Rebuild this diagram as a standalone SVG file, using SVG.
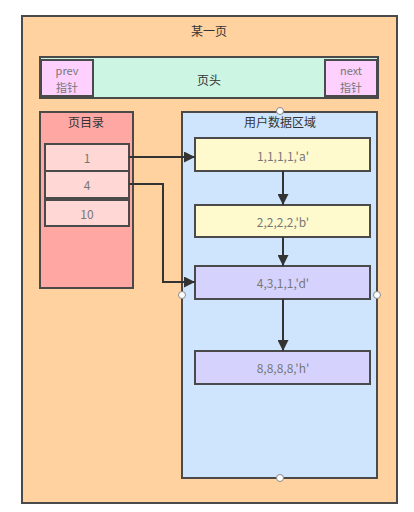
<svg xmlns="http://www.w3.org/2000/svg" width="414" height="512" viewBox="0 0 414 512">
<defs>
<marker id="ah" viewBox="0 0 10 10" refX="10" refY="5" markerWidth="11" markerHeight="11" markerUnits="userSpaceOnUse" orient="auto"><path d="M0,0 L10,5 L0,10 z" fill="#333"/></marker>
<style>
.box{stroke:#4a4a4a;stroke-width:2}
.t{font-family:"Noto Sans CJK SC","Liberation Sans",sans-serif;font-size:12px;text-anchor:middle;dominant-baseline:central}
.s{font-size:11px}
.title{fill:#333}
.rec{fill:#777}
.conn{fill:none;stroke:#333;stroke-width:2;marker-end:url(#ah)}
.h{fill:#fff;stroke:#888;stroke-width:1}
</style>
</defs>
<rect width="414" height="512" fill="#fff"/>
<g id="page">
<rect class="box" x="22" y="16" width="375" height="487" fill="#FFD29F" stroke="#6e5f52"/>
<text class="t title" x="209" y="30">某一页</text>
</g>
<g id="header">
<rect class="box" x="40" y="57" width="338" height="41" fill="#CDF5E3"/>
<text class="t title" x="209" y="79">页头</text>
</g>
<g id="prev">
<rect class="box" x="41" y="60" width="52" height="36" fill="#FDD0FD"/>
<text class="t s rec" x="67" y="70">prev</text>
<text class="t s rec" x="67" y="87">指针</text>
</g>
<g id="next">
<rect class="box" x="325" y="60" width="52" height="36" fill="#FDD0FD"/>
<text class="t s rec" x="351" y="70">next</text>
<text class="t s rec" x="351" y="87">指针</text>
</g>
<g id="directory">
<rect class="box" x="40" y="112" width="93" height="176" fill="#FFA7A3"/>
<text class="t title" x="86" y="121">页目录</text>
</g>
<g id="slot1">
<rect class="box" x="45" y="144" width="84" height="27" fill="#FFD7D5"/>
<text class="t rec" x="87" y="157">1</text>
</g>
<g id="slot4">
<rect class="box" x="45" y="171" width="84" height="27" fill="#FFD7D5"/>
<text class="t rec" x="87" y="184">4</text>
</g>
<g id="slot10">
<rect class="box" x="45" y="200" width="84" height="26" fill="#FFD7D5"/>
<text class="t rec" x="87" y="213">10</text>
</g>
<g id="userdata">
<rect class="box" x="182" y="112" width="195" height="366" fill="#CEE5FD"/>
<text class="t title" x="280" y="121">用户数据区域</text>
</g>
<g id="rec-a">
<rect class="box" x="195" y="138" width="175" height="33" fill="#FFFACE"/>
<text class="t rec" x="283" y="155">1,1,1,1,'a'</text>
</g>
<g id="rec-b">
<rect class="box" x="195" y="205" width="175" height="32" fill="#FFFACE"/>
<text class="t rec" x="283" y="221">2,2,2,2,'b'</text>
</g>
<g id="rec-d">
<rect class="box" x="195" y="266" width="175" height="33" fill="#D5D3FD"/>
<text class="t rec" x="283" y="282">4,3,1,1,'d'</text>
</g>
<g id="rec-h">
<rect class="box" x="195" y="351" width="175" height="33" fill="#D5D3FD"/>
<text class="t rec" x="283" y="367">8,8,8,8,'h'</text>
</g>
<g id="connectors">
<path class="conn" d="M129,157 L195,157"/>
<path class="conn" d="M129,184 L163,184 L163,282 L195,282"/>
<path class="conn" d="M283,171 L283,205"/>
<path class="conn" d="M283,237 L283,266"/>
<path class="conn" d="M283,299 L283,351"/>
</g>
<g id="handles">
<circle class="h" cx="280" cy="111" r="3.5"/>
<circle class="h" cx="182" cy="295" r="3.5"/>
<circle class="h" cx="377" cy="295" r="3.5"/>
<circle class="h" cx="280" cy="478" r="3.5"/>
</g>
</svg>
